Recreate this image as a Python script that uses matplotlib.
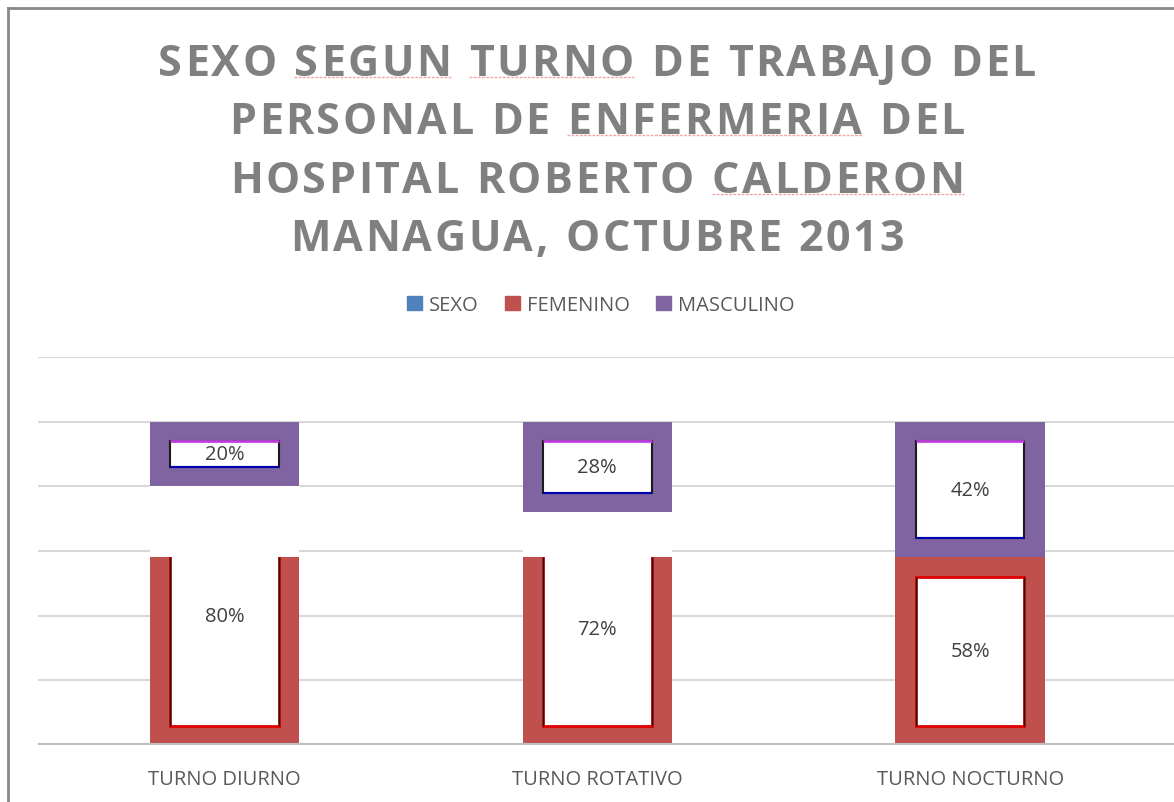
import numpy as np
import matplotlib
matplotlib.use("Agg")
import matplotlib.pyplot as plt
from matplotlib.patches import Rectangle, Patch
from matplotlib.lines import Line2D

# data
turnos = ["TURNO DIURNO", "TURNO ROTATIVO", "TURNO NOCTURNO"]
femenino = [0.80, 0.72, 0.58]
masculino = [0.20, 0.28, 0.42]
series_names = ["SEXO", "FEMENINO", "MASCULINO"]
title_lines = ["SEXO SEGUN TURNO DE TRABAJO DEL",
               "PERSONAL DE ENFERMERIA DEL",
               "HOSPITAL ROBERTO CALDERON",
               "MANAGUA, OCTUBRE 2013"]
spell_marked = ["SEGUN", "TURNO", "ENFERMERIA", "CALDERON"]

c_sexo = "#4F81BD"
c_fem = "#C0504D"
c_mas = "#8064A2"
txt = "#595959"

plt.rcParams['font.family'] = ['Open Sans', 'DejaVu Sans']

W, H = 1174, 803
fig = plt.figure(figsize=(W / 100, H / 100), dpi=100)
ax = fig.add_axes([38 / W, 1 - 746 / H, 1 - 38 / W, (746 - 358) / H])

x = np.arange(len(turnos))
fem = np.array(femenino)
mas = np.array(masculino)
bw = 0.40
ix, iy = 0.054, 0.060   # frame thickness in data units

ax.set_xlim(-0.5, 2.547)
ax.set_ylim(0, 1.2)
ax.set_yticks(np.arange(0.2, 1.21, 0.2))
ax.yaxis.grid(True, color="#D9D9D9", lw=1.5, zorder=0)
ax.tick_params(left=False, labelleft=False, bottom=False)
for s in ax.spines.values():
    s.set_visible(False)
ax.axhline(0, color="#BFBFBF", lw=3, zorder=6)
ax.set_xticks(x)
ax.set_xticklabels(turnos, fontsize=14.5, color=txt)
ax.tick_params(axis='x', pad=14)

# femenino bars: the frame is cut off at the lowest bar top
clip_y = fem.min()
clip = Rectangle((-1, 0), 5, clip_y, transform=ax.transData)
outer = ax.bar(x, fem, width=bw, color=c_fem, zorder=2)
inner = ax.bar(x, fem - 2 * iy, bottom=iy, width=bw - 2 * ix, color="white",
               edgecolor="#E00000", lw=2, zorder=3)
for b in list(outer) + list(inner):
    b.set_clip_path(clip)
for xi, f in zip(x, fem):
    top = f - iy if f <= clip_y else clip_y
    ax.vlines([xi - bw / 2 + ix, xi + bw / 2 - ix], iy, top, color="#1a1a1a",
              lw=1, zorder=4)
# blank part above the cut
ax.bar(x, fem - clip_y, bottom=clip_y, width=bw, color="white", zorder=2)

# masculino bars
ax.bar(x, mas, bottom=fem, width=bw, color=c_mas, zorder=2)
ax.bar(x, mas - 2 * iy, bottom=fem + iy, width=bw - 2 * ix, color="white",
       edgecolor="#1a1a1a", lw=1.5, zorder=3)
ax.hlines(fem + mas - iy, x - bw / 2 + ix, x + bw / 2 - ix, color="#C040E0", lw=2, zorder=4)
ax.hlines(fem + iy, x - bw / 2 + ix, x + bw / 2 - ix, color="#0000B0", lw=1.5, zorder=4)

for xi, f, m in zip(x, fem, mas):
    ax.text(xi, f / 2, f"{f * 100:.0f}%", ha="center", va="center", fontsize=14.5,
            color="#404040", zorder=5)
    ax.text(xi, f + m / 2, f"{m * 100:.0f}%", ha="center", va="center", fontsize=14.5,
            color="#404040", zorder=5)

# legend
handles = [Patch(color=c) for c in (c_sexo, c_fem, c_mas)]
leg = fig.legend(handles, series_names, loc="center", bbox_to_anchor=(601 / W, 1 - 306 / H),
                 ncol=3, frameon=False, fontsize=14.5, handlelength=0.75, handleheight=0.75,
                 handletextpad=0.35, columnspacing=1.3, labelcolor=txt)

# title with letter spacing
renderer = fig.canvas.get_renderer()
tfs = 31
def char_w(ch):
    t = fig.text(0, 0, ch, fontsize=tfs, fontweight="bold")
    w = t.get_window_extent(renderer).width
    t.remove()
    return w
track = 2.5
baselines = [76, 134, 193, 251]
for line, by in zip(title_lines, baselines):
    ws = [char_w(ch) if ch != " " else char_w("n") * 0.45 for ch in line]
    total = sum(ws) + track * (len(line) - 1)
    px = 597 - total / 2
    starts = []
    for ch, w in zip(line, ws):
        starts.append(px)
        fig.text(px / W, 1 - by / H, ch, fontsize=tfs, fontweight="bold", color="#808080",
                 va="baseline", ha="left")
        px += w + track
    # faint spell-check underline under some words
    pos = 0
    for word in line.split(" "):
        if word.strip(",") in spell_marked:
            x0 = starts[pos]
            x1 = starts[pos + len(word) - 1] + ws[pos + len(word) - 1]
            fig.add_artist(Line2D([x0 / W, x1 / W], [1 - (by + 2) / H] * 2,
                                  color="#F4A6A6", lw=1, ls=(0, (2, 1))))
        pos += len(word) + 1

# chart border
fig.add_artist(Line2D([8 / W, 8 / W], [0, 1 - 9 / H], color="#888888", lw=2))
fig.add_artist(Line2D([8 / W, 1], [1 - 9 / H, 1 - 9 / H], color="#888888", lw=2))

fig.savefig("out.png", dpi=100)
